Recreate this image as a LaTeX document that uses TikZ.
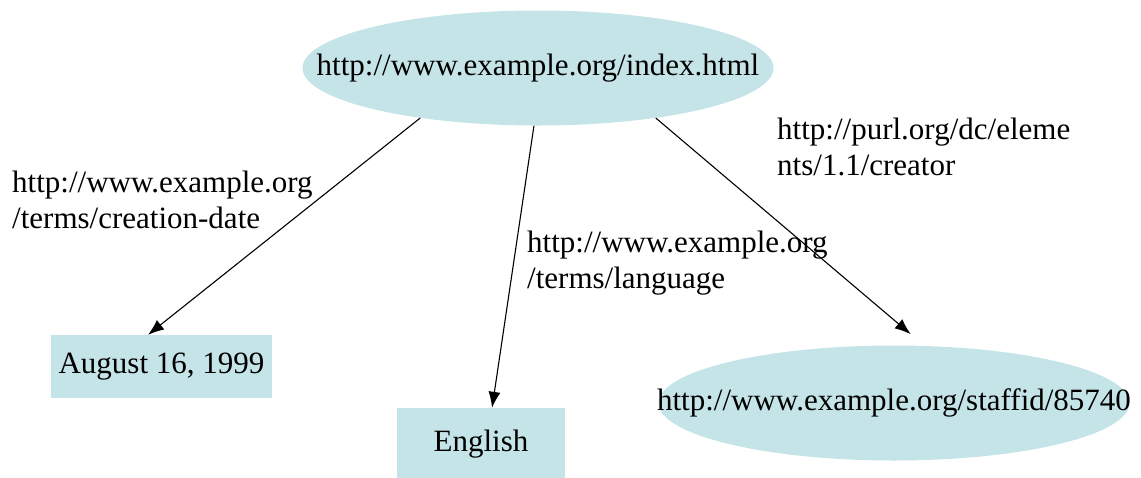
\documentclass[tikz,border=0pt]{standalone}
\usepackage{fontspec}
\setmainfont{Liberation Serif}
\usetikzlibrary{arrows.meta,shapes.geometric}
\definecolor{nodefill}{RGB}{197,228,232}
\newcommand{\uri}[1]{\makebox[0pt]{#1}}
\begin{document}
\begin{tikzpicture}[x=1pt, y=-1pt,
  every node/.style={font=\fontsize{31}{36}\selectfont},
  res/.style={ellipse, fill=nodefill, inner sep=0pt, minimum width=471pt, minimum height=115pt},
  lit/.style={rectangle, fill=nodefill, inner sep=0pt},
  lbl/.style={anchor=base west, align=left, inner sep=0pt},
  arc/.style={line width=1.1pt, -{Latex[length=16pt,width=12pt]}}]
 \useasboundingbox (0,0) rectangle (1141,477);

 \draw node[res] (idx) at (538,68) {\uri{http://www.example.org/index.html}};
 \draw node[lit, minimum width=221pt, minimum height=63pt] (date) at (161.5,366.5) {August 16, 1999};
 \draw node[lit, minimum width=168pt, minimum height=72pt] (lang) at (481,444) {English};
 \draw node[res] (staff) at (894,403) {\uri{http://www.example.org/staffid/85740}};

 \draw[arc] (idx.203) -- (date.113);
 \draw[arc] (idx.266) -- (lang.73);
 \draw[arc, shorten >=18pt] (idx.337) -- (staff.62);

 \draw node[lbl] (ldate) at (12,228) {http://www.example.org\\/terms/creation-date};
 \draw node[lbl] (llang) at (527,288) {http://www.example.org\\/terms/language};
 \draw node[lbl] (lcreator) at (777,175) {http://purl.org/dc/eleme\\nts/1.1/creator};
\end{tikzpicture}
\end{document}
